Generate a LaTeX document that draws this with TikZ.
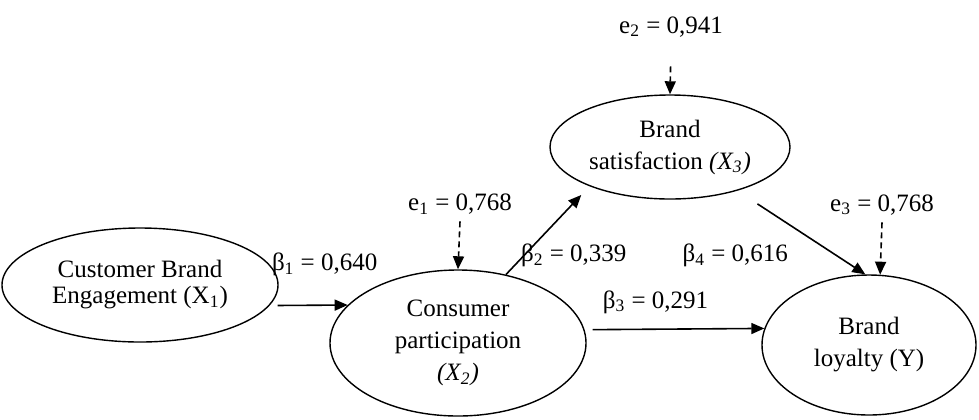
\documentclass[tikz,border=0pt]{standalone}
\usepackage{fontspec}
\setmainfont{Liberation Serif}
\usetikzlibrary{shapes,arrows.meta}
\tikzstyle{latent} = [draw, ellipse, line width=0.7pt, inner sep=0pt, align=center]
\tikzstyle{effect} = [->, line width=0.8pt]
\tikzstyle{error} = [->, line width=0.8pt, dash pattern=on 3pt off 2pt]
\begin{document}
\begin{tikzpicture}[x=0.5pt, y=-0.5pt, >={Triangle[length=6.5pt,width=5.5pt]}]
    \tikzset{font={\fontsize{12.5pt}{16pt}\selectfont}}
    \useasboundingbox (0,0) rectangle (979,419);
    \node [latent, minimum width=138pt, minimum height=57pt] (x1) at (140,285) {Customer Brand\\[-3pt] Engagement (X\textsubscript{1})};
    \node [latent, minimum width=128pt, minimum height=73pt] (x2) at (458,343) {Consumer\\ participation\\ \textit{(X\textsubscript{2})}};
    \node [latent, minimum width=120pt, minimum height=52pt] (x3) at (670,147) {Brand\\ satisfaction \textit{(X\textsubscript{3})}};
    \node [latent, minimum width=107pt, minimum height=70pt] (y) at (869,345) {Brand\\ loyalty (Y)};
    % error terms
    \node (e1) at (460,204) {e\textsubscript{1} = 0,768};
    \node (e2) at (671,27) {e\textsubscript{2} = 0,941};
    \node (e3) at (882,205) {e\textsubscript{3} = 0,768};
    \draw [error] (e1.south) -- (x2.north);
    \draw [error, shorten <=11pt] (e2.south) -- (x3.north);
    \draw [error] (e3.south) -- (y.81);
    % paths
    \draw [effect, shorten <=4pt] (x1.-9) -- node[shift={(16,-41)}] (b1) {β\textsubscript{1} = 0,640} (x2.161);
    \draw [effect, shorten >=6pt] (x2.55) -- node[shift={(26,25)}] (b2) {β\textsubscript{2} = 0,339} (x3.206);
    \draw [effect, shorten <=4pt] (x2.6.2) -- node[shift={(-19,-27)}] (b3) {β\textsubscript{3} = 0,291} (y.171);
    \draw [effect, shorten <=12pt] (x3.-33) -- node[shift={(-66,23)}] (b4) {β\textsubscript{4} = 0,616} (y.93);
\end{tikzpicture}
\end{document}
